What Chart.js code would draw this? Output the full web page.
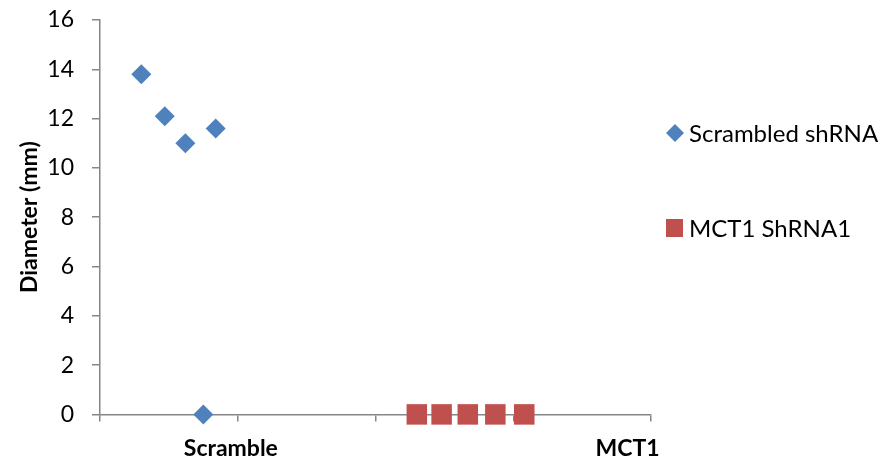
<!DOCTYPE html>
<html>
<head>
<meta charset="utf-8">
<script src="https://cdn.jsdelivr.net/npm/chart.js@4"></script>
<style>
  html, body { margin: 0; padding: 0; background: #fff; }
  #wrap { width: 886px; height: 466px; }
</style>
</head>
<body>
<div id="wrap"><canvas id="chart" width="886" height="466"></canvas></div>
<script>
// data
const seriesNames = ["Scrambled shRNA", "MCT1 ShRNA1"];
const scrambledX = [0.30, 0.47, 0.62, 0.84, 0.75];
const scrambledY = [13.8, 12.1, 11.0, 11.6, 0];
const mct1X = [2.30, 2.48, 2.67, 2.87, 3.08];
const mct1Y = [0, 0, 0, 0, 0];
const groupLabels = ["Scramble", "MCT1"];
const groupLabelAt = [0.95, 3.83];
const yTicks = [0, 2, 4, 6, 8, 10, 12, 14, 16];

const blue = "#4F81BD";
const red = "#C0504D";
const axisGrey = "#868686";
const fontFam = "Lato, 'Open Sans', sans-serif";

function toPoints(xs, ys) {
  return xs.map((x, i) => ({ x: x, y: ys[i] }));
}

// legend drawn by hand so it sits where Excel put it
const sideLegend = {
  id: "sideLegend",
  afterDraw(chart) {
    const ctx = chart.ctx;
    const rows = [
      { y: 133, style: "diamond" },
      { y: 228, style: "square" },
    ];
    ctx.save();
    ctx.font = "24px " + fontFam;
    ctx.textBaseline = "middle";
    chart.data.datasets.forEach((ds, i) => {
      const r = rows[i];
      ctx.fillStyle = ds.backgroundColor;
      ctx.beginPath();
      if (r.style === "diamond") {
        ctx.moveTo(675, r.y - 9);
        ctx.lineTo(684, r.y);
        ctx.lineTo(675, r.y + 9);
        ctx.lineTo(666, r.y);
        ctx.closePath();
      } else {
        ctx.rect(666, r.y - 9, 17, 18);
      }
      ctx.fill();
      ctx.fillStyle = "#000";
      ctx.fillText(ds.label, 689, r.y + 1);
    });
    ctx.restore();
  },
};

const ctx = document.getElementById("chart").getContext("2d");
new Chart(ctx, {
  type: "scatter",
  data: {
    datasets: [
      {
        label: seriesNames[0],
        data: toPoints(scrambledX, scrambledY),
        backgroundColor: blue,
        borderColor: blue,
        pointStyle: "rectRot",
        pointRadius: 10,
        pointHoverRadius: 10,
        borderWidth: 0,
        clip: false,
      },
      {
        label: seriesNames[1],
        data: toPoints(mct1X, mct1Y),
        backgroundColor: red,
        borderColor: red,
        pointStyle: "rect",
        pointRadius: 14.5,
        pointHoverRadius: 14.5,
        borderWidth: 0,
        clip: false,
      },
    ],
  },
  options: {
    responsive: false,
    animation: false,
    layout: { padding: { top: 0, right: 235, bottom: -9, left: 16 } },
    plugins: {
      legend: { display: false },
      tooltip: { enabled: false },
    },
    scales: {
      x: {
        type: "linear",
        min: 0,
        max: 4,
        afterBuildTicks(axis) {
          const t = [0, 1, 2, 3, 4].map((v) => ({ value: v }));
          groupLabelAt.forEach((v) => t.push({ value: v }));
          t.sort((a, b) => a.value - b.value);
          axis.ticks = t;
        },
        border: { display: true, color: axisGrey, width: 1.5 },
        grid: {
          drawOnChartArea: false,
          drawTicks: true,
          tickLength: 7,
          lineWidth: 1.5,
          color: (c) => (c.tick && Number.isInteger(c.tick.value) ? axisGrey : "rgba(0,0,0,0)"),
        },
        ticks: {
          autoSkip: false,
          maxRotation: 0,
          padding: 13,
          color: "#000",
          font: { family: fontFam, size: 23, weight: "bold" },
          callback: (v) => {
            const i = groupLabelAt.indexOf(v);
            return i >= 0 ? groupLabels[i] : "";
          },
        },
      },
      y: {
        min: 0,
        max: 16,
        afterBuildTicks(axis) {
          axis.ticks = yTicks.map((v) => ({ value: v }));
        },
        afterFit(axis) {
          axis.width = 84;
          axis.paddingTop = 20;
        },
        border: { display: true, color: axisGrey, width: 1.5 },
        grid: {
          drawOnChartArea: false,
          drawTicks: true,
          tickLength: 8,
          lineWidth: 1.5,
          color: axisGrey,
        },
        ticks: {
          padding: 18,
          color: "#000",
          font: { family: fontFam, size: 23 },
        },
        title: {
          display: true,
          text: "Diameter (mm)",
          color: "#000",
          padding: { top: 0, bottom: 2 },
          font: { family: fontFam, size: 23, weight: "bold" },
        },
      },
    },
  },
  plugins: [sideLegend],
});
</script>
</body>
</html>
